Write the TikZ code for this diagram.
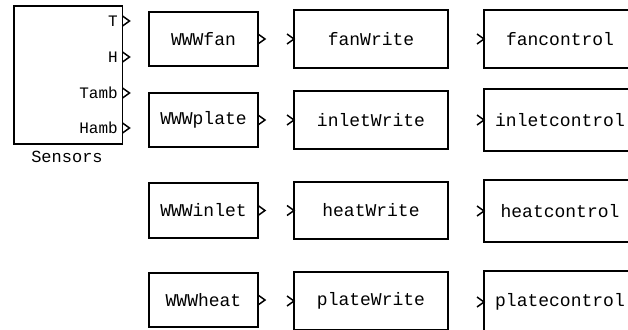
\documentclass[tikz,border=0pt]{standalone}
\usepackage{fontspec}
\newfontfamily\monof{Liberation Mono}
\tikzset{
  blk/.style={draw=black, line width=1.3pt, inner sep=0pt, outer sep=0pt, font=\monof\fontsize{18}{20}\selectfont},
  c1/.style={blk, minimum width=109pt, minimum height=54pt},
  c2/.style={blk, minimum width=154pt, minimum height=58pt},
  c3/.style={blk, minimum width=152pt, minimum height=62pt},
  plab/.style={inner sep=0pt, anchor=east, font=\monof\fontsize{16}{18}\selectfont},
  outport/.pic={\draw[line width=1.5pt] (0,5) -- (7,0) -- (0,-5);},
  inport/.pic={\draw[line width=1.5pt] (-7,5) -- (0,0) -- (-7,-5);}
}
\begin{document}
\begin{tikzpicture}[x=1pt,y=-1pt]
\useasboundingbox (0,0) rectangle (628,329);
\clip (0,0) rectangle (628,329);
% Sensors block
\node[blk, minimum width=108.5pt, minimum height=138pt] (sens) at (68.25,75) {};
\node[inner sep=0pt, font=\monof\fontsize{17}{18}\selectfont] (senslab) at (67,157) {Sensors};
\node[plab] (pT) at (118,21) {T};
\node[plab] (pH) at (118,57) {H};
\node[plab] (pTa) at (118,93) {Tamb};
\node[plab] (pHa) at (118,128) {Hamb};
\foreach \yy in {21,57,93,128} \pic at (122.5,\yy) {outport};
% Column 1
\node[c1] (wfan) at (203.5,39) {WWWfan};
\node[c1] (wplate) at (203.5,120) {WWWplate};
\node[c1, minimum height=55pt] (winlet) at (203.5,210.5) {WWWinlet};
\node[c1] (wheat) at (203.5,300) {WWWheat};
% Column 2
\node[c2] (fw) at (371,39) {fanWrite};
\node[c2] (iw) at (371,120) {inletWrite};
\node[c2, minimum height=57pt] (hw) at (371,210.5) {heatWrite};
\node[c2] (pw) at (371,301) {plateWrite};
% Column 3
\node[c3, minimum height=58pt] (fc) at (560,39) {fancontrol};
\node[c3] (ic) at (560,120) {inletcontrol};
\node[c3] (hc) at (560,211) {heatcontrol};
\node[c3] (pc) at (560,302) {platecontrol};
% ports
\foreach \n in {wfan,wplate,winlet,wheat} \pic at (\n.east) {outport};
\foreach \n in {fw,iw,hw,pw,fc,ic,hc,pc} \pic at (\n.west) {inport};
\end{tikzpicture}
\end{document}
